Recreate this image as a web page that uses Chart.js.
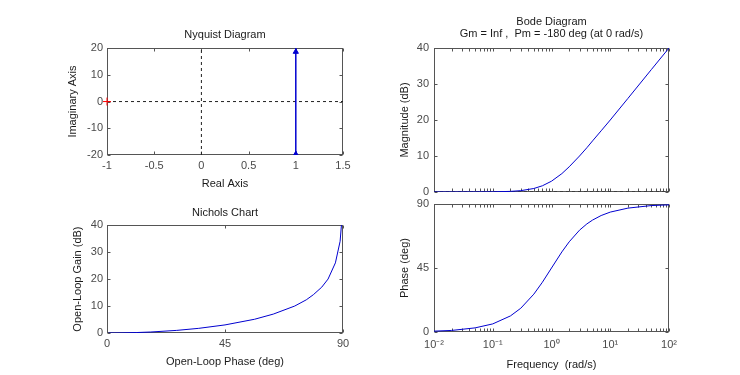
<!DOCTYPE html>
<html lang="en">
<head>
<meta charset="UTF-8">
<title>Nyquist, Nichols and Bode plots</title>
<script src="https://cdn.jsdelivr.net/npm/chart.js"></script>
<style>
  html, body { margin: 0; padding: 0; background: #fff; }
  .panel { position: absolute; left: 0; top: 0; width: 740px; height: 375px; }
</style>
</head>
<body>
<div class="panel"><canvas id="nyquist"></canvas></div>
<div class="panel"><canvas id="nichols"></canvas></div>
<div class="panel"><canvas id="bodeMag"></canvas></div>
<div class="panel"><canvas id="bodePhase"></canvas></div>
<script>
const freq     = [0.01, 0.02, 0.05, 0.1, 0.2, 0.3, 0.5, 0.7, 1, 1.5, 2, 3, 4, 5, 7, 10, 20, 50, 100];
const magDb    = [0, 0, 0.01, 0.04, 0.17, 0.37, 0.97, 1.73, 3.0, 5.1, 7.0, 10.0, 12.3, 14.2, 17.0, 20.0, 26.0, 34.0, 40.0];
const phaseDeg = [0.6, 1.1, 2.9, 5.7, 11.3, 16.7, 26.6, 35.0, 45, 56.3, 63.4, 71.6, 76.0, 78.7, 81.9, 84.3, 87.1, 88.9, 89.4];

// nyquist curve (vertical line Re = 1) and its arrows
const nyqRe = [1, 1];
const nyqIm = [-20, 20];
const arrowRe = [1, 1];
const arrowIm = [18.6, -19.7];
const critRe = [-1];
const critIm = [0];

// axis limits and ticks
const nyqXRange = [-1, 1.5];
const nyqYRange = [-20, 20];
const nyqXTicks = [-1, -0.5, 0, 0.5, 1, 1.5];
const nyqYTicks = [-20, -10, 0, 10, 20];
const nicXTicks = [0, 45, 90];
const gainTicks = [0, 10, 20, 30, 40];
const phaseTicks = [0, 45, 90];
const freqRange = [0.01, 100];
const freqTicks = [0.01, 0.1, 1, 10, 100];
const freqTickLabels = ['10\u207B\u00B2', '10\u207B\u00B9', '10\u2070', '10\u00B9', '10\u00B2'];

const FONT = "'Liberation Sans', Arial, sans-serif";
const BLUE = '#0000d0';

function pts(xs, ys) {
  return xs.map((x, i) => ({x: x, y: ys[i]}));
}

function axis(o) {
  const ticks = {
    display: o.showTicks !== false,
    padding: o.pad || 0,
    color: '#4a4a4a',
    font: {family: FONT, size: 11},
    maxRotation: 0,
    autoSkip: false,
    callback: o.fmt || (v => String(v))
  };
  return {
    type: o.type || 'linear',
    position: o.position,
    min: o.min,
    max: o.max,
    grid: {display: false, drawTicks: false, tickLength: 0},
    border: {display: false},
    ticks: ticks,
    title: {display: !!o.title, text: o.title || '', color: '#1a1a1a', font: {family: FONT, size: 11}, padding: 0},
    afterBuildTicks: s => { s.ticks = o.ticks.map(v => ({value: v})); },
    afterFit: s => {
      if (o.position === 'left') s.width = o.size; else s.height = o.size;
    }
  };
}

// matlab style box with inward tick marks
const boxPlugin = {
  id: 'box',
  beforeDatasetsDraw(chart) {
    const {ctx, chartArea: a, scales} = chart;
    const L = Math.round(a.left) + 0.5, R = Math.round(a.right) - 0.5;
    const T = Math.round(a.top) + 0.5, B = Math.round(a.bottom) - 0.5;
    const len = 3;
    ctx.save();
    ctx.strokeStyle = '#555';
    ctx.lineWidth = 1;
    ctx.strokeRect(L, T, R - L, B - T);
    ctx.beginPath();
    const xs = scales.x, ys = scales.y;
    let xv = xs.ticks.map(t => t.value);
    if (xs.type === 'logarithmic') {
      for (let e = -2; e < 2; e++) {
        for (let k = 2; k < 10; k++) xv.push(k * Math.pow(10, e));
      }
    }
    xv.forEach(v => {
      const p = Math.round(xs.getPixelForValue(v)) + 0.5;
      ctx.moveTo(p, B); ctx.lineTo(p, B - len);
      ctx.moveTo(p, T); ctx.lineTo(p, T + len);
    });
    ys.ticks.forEach(t => {
      const p = Math.round(ys.getPixelForValue(t.value)) + 0.5;
      ctx.moveTo(L, p); ctx.lineTo(L + len, p);
      ctx.moveTo(R, p); ctx.lineTo(R - len, p);
    });
    ctx.stroke();
    ctx.restore();
  }
};

function title(lines, top, bottom) {
  return {
    display: true,
    text: lines,
    fullSize: false,
    color: '#1a1a1a',
    font: {family: FONT, size: 11, weight: 'normal', lineHeight: 1.1},
    padding: {top: top, bottom: bottom}
  };
}

function baseOptions(pad, titleOpts, scales) {
  return {
    responsive: true,
    maintainAspectRatio: false,
    animation: false,
    events: [],
    layout: {padding: pad},
    plugins: {
      legend: {display: false},
      tooltip: {enabled: false},
      title: titleOpts || {display: false}
    },
    scales: scales
  };
}

function line(data, color, width, dash) {
  return {data: data, showLine: true, borderColor: color, borderWidth: width, borderDash: dash || [],
    pointRadius: 0, pointHoverRadius: 0, pointStyle: false, fill: false};
}

// Nyquist
new Chart(document.getElementById('nyquist'), {
  type: 'scatter',
  data: {
    datasets: [
      line(pts(nyqRe, nyqIm), BLUE, 1.5),
      {data: pts(arrowRe, arrowIm), pointStyle: 'triangle', pointRadius: 3, backgroundColor: BLUE, borderColor: BLUE, borderWidth: 1},
      {data: pts(critRe, critIm), pointStyle: 'cross', pointRadius: 4, borderColor: '#ff0000', borderWidth: 1, clip: false},
      line(pts(nyqXRange, [0, 0]), '#222', 1, [3, 3]),
      line(pts([0, 0], nyqYRange), '#222', 1, [3, 3])
    ]
  },
  options: baseOptions({left: 66.4, right: 397, top: 0, bottom: 184.4},
    title(['Nyquist Diagram'], 28.9, 7.1),
    {
      x: axis({position: 'bottom', min: nyqXRange[0], max: nyqXRange[1], ticks: nyqXTicks, pad: 4.4, size: 35.6, title: 'Real Axis'}),
      y: axis({position: 'left', min: nyqYRange[0], max: nyqYRange[1], ticks: nyqYTicks, pad: 4, size: 40.6, title: 'Imaginary Axis'})
    }),
  plugins: [boxPlugin]
});

// Nichols
new Chart(document.getElementById('nichols'), {
  type: 'scatter',
  data: {datasets: [line(pts(phaseDeg, magDb), BLUE, 1)]},
  options: baseOptions({left: 71.4, right: 397, top: 0, bottom: 6.4},
    title(['Nichols Chart'], 206.9, 6.1),
    {
      x: axis({position: 'bottom', min: 0, max: 90, ticks: nicXTicks, pad: 4.4, size: 35.6, title: 'Open-Loop Phase (deg)'}),
      y: axis({position: 'left', min: 0, max: 40, ticks: gainTicks, pad: 4, size: 35.6, title: 'Open-Loop Gain (dB)'})
    }),
  plugins: [boxPlugin]
});

// Bode magnitude
new Chart(document.getElementById('bodeMag'), {
  type: 'scatter',
  data: {
    datasets: [
      line(pts(freq, magDb), BLUE, 1),
      line(pts(freqRange, [0, 0]), '#222', 1, [3, 3])
    ]
  },
  options: baseOptions({left: 398.4, right: 71, top: 0, bottom: 183},
    title(['Bode Diagram', 'Gm = Inf ,  Pm = -180 deg (at 0 rad/s)'], 15.95, 7.85),
    {
      x: axis({type: 'logarithmic', position: 'bottom', min: freqRange[0], max: freqRange[1], ticks: freqTicks, showTicks: false, size: 0}),
      y: axis({position: 'left', min: 0, max: 40, ticks: gainTicks, pad: 5, size: 35.6, title: 'Magnitude (dB)'})
    }),
  plugins: [boxPlugin]
});

// Bode phase
new Chart(document.getElementById('bodePhase'), {
  type: 'scatter',
  data: {datasets: [line(pts(freq, phaseDeg), BLUE, 1)]},
  options: baseOptions({left: 398.4, right: 71, top: 204, bottom: 3.4}, null,
    {
      x: axis({type: 'logarithmic', position: 'bottom', min: freqRange[0], max: freqRange[1], ticks: freqTicks, pad: 6.4, size: 39.6,
        title: 'Frequency  (rad/s)', fmt: v => freqTickLabels[freqTicks.indexOf(v)]}),
      y: axis({position: 'left', min: 0, max: 90, ticks: phaseTicks, pad: 5, size: 35.6, title: 'Phase (deg)'})
    }),
  plugins: [boxPlugin]
});
</script>
</body>
</html>
